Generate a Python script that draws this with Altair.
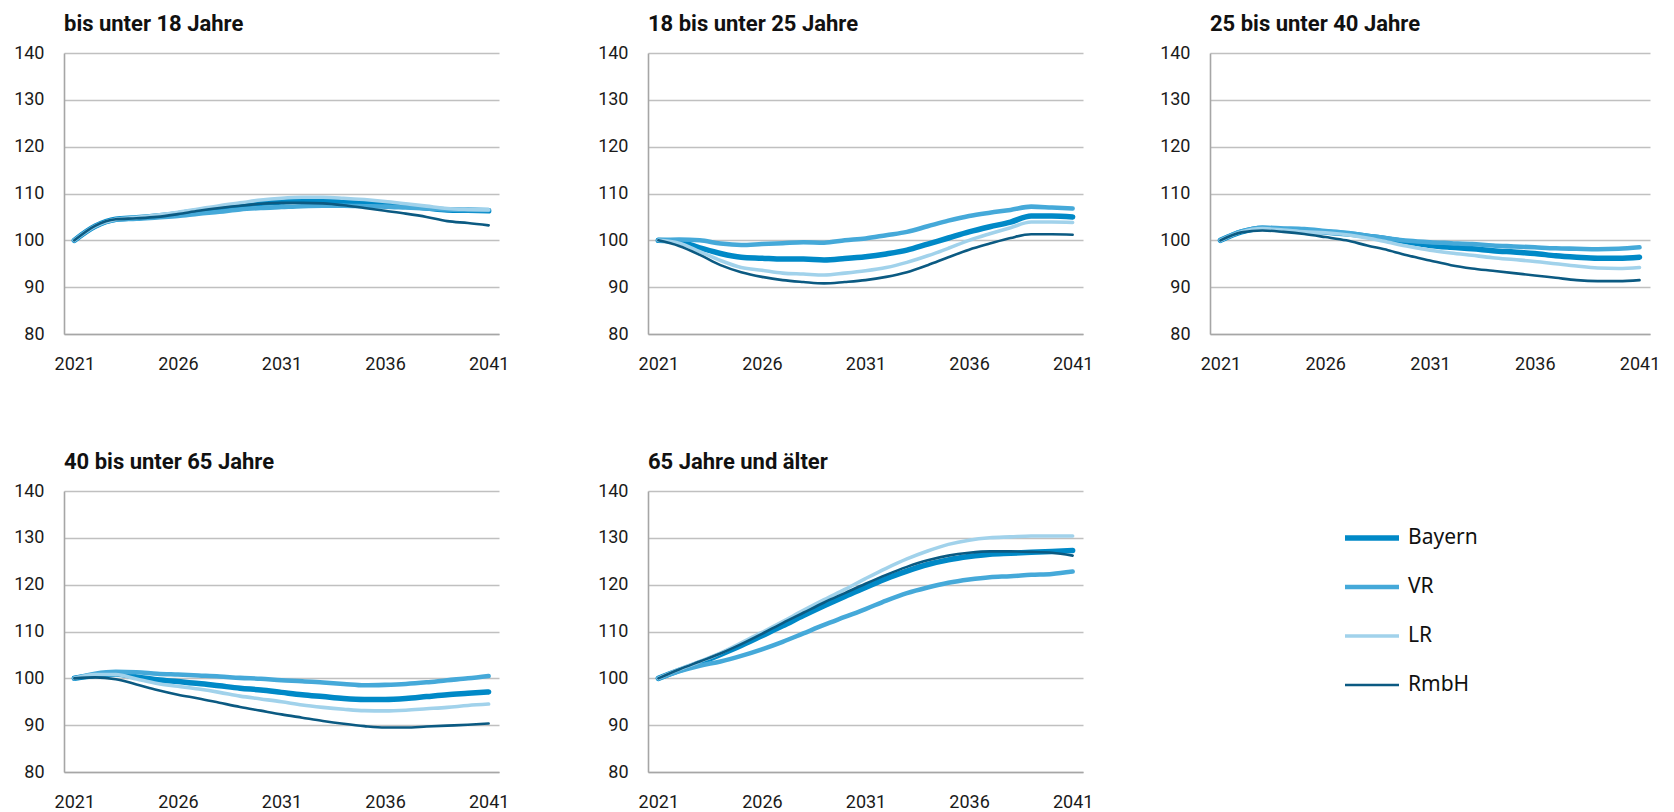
import altair as alt
import pandas as pd

YEARS = list(range(2021, 2042))
SERIES = ["Bayern", "VR", "LR", "RmbH"]
COLORS = ["#0089C7", "#45A9D9", "#A1D2EB", "#0B5A82"]
WIDTHS = [5.5, 2.6, 2.6, 2.6]
TITLES = ["bis unter 18 Jahre", "18 bis unter 25 Jahre", "25 bis unter 40 Jahre",
          "40 bis unter 65 Jahre", "65 Jahre und älter"]
Y_TICKS = [80, 90, 100, 110, 120, 130, 140]
X_TICKS = [2021, 2026, 2031, 2036, 2041]

# bis unter 18 Jahre
u18_bayern = [100, 103.0, 104.5, 104.8, 105.2, 105.7, 106.3, 106.9, 107.5, 107.9, 108.2,
              108.4, 108.4, 108.2, 107.9, 107.6, 107.3, 106.9, 106.5, 106.4, 106.3]
u18_vr = [100, 103.0, 104.4, 104.6, 104.9, 105.2, 105.7, 106.1, 106.6, 106.9, 107.1,
          107.3, 107.4, 107.4, 107.3, 107.2, 107.0, 106.8, 106.6, 106.5, 106.5]
u18_lr = [100, 103.0, 104.5, 104.9, 105.4, 106.0, 106.7, 107.4, 108.0, 108.6, 109.0,
          109.2, 109.2, 109.0, 108.7, 108.3, 107.8, 107.3, 106.8, 106.6, 106.5]
u18_rmbh = [100, 103.1, 104.5, 104.7, 105.0, 105.6, 106.3, 106.9, 107.4, 107.8, 108.0,
            108.0, 107.9, 107.5, 106.9, 106.3, 105.7, 105.0, 104.1, 103.7, 103.2]

# 18 bis unter 25 Jahre
a18_bayern = [100, 99.7, 98.4, 97.2, 96.4, 96.2, 96.0, 96.0, 95.8, 96.1, 96.5,
              97.1, 97.9, 99.2, 100.5, 101.8, 102.9, 103.9, 105.2, 105.2, 105.0]
a18_vr = [100, 100.2, 100.0, 99.3, 99.0, 99.2, 99.4, 99.6, 99.5, 100.0, 100.4,
          101.1, 101.8, 103.0, 104.2, 105.2, 105.9, 106.5, 107.2, 107.0, 106.8]
a18_lr = [100, 99.4, 97.6, 95.7, 94.2, 93.6, 93.0, 92.8, 92.6, 93.0, 93.5,
          94.2, 95.3, 96.7, 98.3, 100.0, 101.4, 102.7, 103.9, 103.9, 103.8]
a18_rmbh = [100, 98.8, 96.9, 94.7, 93.2, 92.2, 91.5, 91.1, 90.8, 91.1, 91.5,
            92.2, 93.2, 94.7, 96.4, 98.0, 99.3, 100.5, 101.3, 101.3, 101.2]

# 25 bis unter 40 Jahre
a25_bayern = [100, 101.8, 102.6, 102.3, 102.1, 101.8, 101.4, 100.9, 100.3, 99.6, 98.9,
              98.5, 98.2, 97.8, 97.5, 97.2, 96.7, 96.4, 96.2, 96.2, 96.4]
a25_vr = [100, 101.9, 102.7, 102.55, 102.4, 102.0, 101.6, 101.0, 100.4, 99.9, 99.6,
          99.4, 99.2, 98.9, 98.7, 98.5, 98.3, 98.2, 98.1, 98.2, 98.5]
a25_lr = [100, 101.8, 102.5, 102.2, 101.8, 101.6, 101.2, 100.5, 99.6, 98.7, 97.9,
          97.3, 96.8, 96.3, 95.9, 95.5, 95.0, 94.5, 94.1, 94.0, 94.2]
a25_rmbh = [100, 101.7, 102.1, 101.8, 101.35, 100.7, 100.0, 98.9, 97.9, 96.7, 95.7,
            94.7, 94.0, 93.5, 93.0, 92.5, 92.0, 91.5, 91.3, 91.3, 91.5]

# 40 bis unter 65 Jahre
a40_bayern = [100, 100.6, 100.9, 100.3, 99.7, 99.3, 98.9, 98.4, 97.9, 97.5, 97.0,
              96.5, 96.1, 95.7, 95.5, 95.5, 95.7, 96.1, 96.5, 96.8, 97.1]
a40_vr = [100, 101.0, 101.4, 101.3, 101.0, 100.8, 100.6, 100.4, 100.1, 99.9, 99.6,
          99.4, 99.1, 98.8, 98.5, 98.6, 98.8, 99.15, 99.6, 100.0, 100.5]
a40_lr = [100, 100.8, 100.8, 99.85, 98.9, 98.3, 97.7, 97.0, 96.2, 95.6, 95.0,
          94.3, 93.8, 93.4, 93.1, 93.05, 93.2, 93.5, 93.8, 94.2, 94.5]
a40_rmbh = [100, 100.2, 99.8, 98.7, 97.5, 96.5, 95.7, 94.8, 93.9, 93.1, 92.3,
            91.6, 90.9, 90.3, 89.8, 89.5, 89.5, 89.7, 89.9, 90.1, 90.35]

# 65 Jahre und älter
a65_bayern = [100, 101.7, 103.3, 105.1, 107.0, 109.1, 111.2, 113.4, 115.5, 117.5, 119.4,
              121.3, 122.9, 124.3, 125.3, 126.0, 126.5, 126.7, 126.9, 127.1, 127.3]
a65_vr = [100, 101.5, 102.7, 103.6, 104.8, 106.2, 107.8, 109.6, 111.4, 113.1, 114.8,
          116.6, 118.2, 119.4, 120.4, 121.1, 121.6, 121.8, 122.1, 122.3, 122.8]
a65_lr = [100, 101.9, 103.6, 105.4, 107.6, 109.8, 112.1, 114.5, 116.8, 119.0, 121.3,
          123.5, 125.5, 127.2, 128.6, 129.5, 130.0, 130.2, 130.4, 130.4, 130.4]
a65_rmbh = [100, 101.9, 103.6, 105.3, 107.3, 109.5, 111.8, 114.0, 116.2, 118.2, 120.2,
            122.1, 123.8, 125.2, 126.2, 126.8, 127.1, 127.1, 127.0, 126.8, 126.2]

PANEL_DATA = [
    [u18_bayern, u18_vr, u18_lr, u18_rmbh],
    [a18_bayern, a18_vr, a18_lr, a18_rmbh],
    [a25_bayern, a25_vr, a25_lr, a25_rmbh],
    [a40_bayern, a40_vr, a40_lr, a40_rmbh],
    [a65_bayern, a65_vr, a65_lr, a65_rmbh],
]

FONT = "Roboto"
W, H = 435, 281

LEGEND = alt.Legend(
    title=None, orient="none", legendX=1278, legendY=475, symbolType="stroke",
    symbolSize=2916, labelFont="Noto Sans", labelFontSize=21, labelColor="#111111",
    labelOffset=6, rowPadding=28, clipHeight=20, padding=0,
)


def frame(series_lists):
    rows = []
    for name, vals in zip(SERIES, series_lists):
        for y, v in zip(YEARS, vals):
            rows.append({"Jahr": y, "Wert": v, "Reihe": name})
    return pd.DataFrame(rows)


def panel(i, width=W):
    df = frame(PANEL_DATA[i])
    return alt.Chart(df).mark_line(interpolate="monotone", strokeCap="round", strokeJoin="round").encode(
        x=alt.X("Jahr:Q",
                scale=alt.Scale(domain=[2020.5, 2041.5], nice=False, zero=False),
                axis=alt.Axis(values=X_TICKS, format="d", title=None, grid=False,
                              ticks=False, labelPadding=21, domainColor="#A6A6A6",
                              domainWidth=1.6, labelFont=FONT, labelFontSize=18,
                              labelColor="#1a1a1a", labelFlush=False)),
        y=alt.Y("Wert:Q",
                scale=alt.Scale(domain=[80, 140], nice=False, zero=False),
                axis=alt.Axis(values=Y_TICKS, title=None, grid=True, gridColor="#C0C0C0",
                              gridWidth=1.6, ticks=False, labelPadding=20,
                              domainColor="#A6A6A6", domainWidth=1.6, labelFont=FONT,
                              labelFontSize=18, labelColor="#1a1a1a")),
        color=alt.Color("Reihe:N", sort=SERIES,
                        scale=alt.Scale(domain=SERIES, range=COLORS),
                        legend=LEGEND),
        strokeWidth=alt.StrokeWidth("Reihe:N", sort=SERIES,
                                    scale=alt.Scale(domain=SERIES, range=WIDTHS),
                                    legend=LEGEND),
        order=alt.Order("Jahr:Q"),
    ).properties(
        width=width, height=H,
        title=alt.TitleParams(TITLES[i], anchor="start", frame="group", font=FONT,
                              fontSize=22, fontWeight="bold", color="#111111", offset=8),
    )


top_left = alt.hconcat(panel(0), panel(1), spacing=88)
row1 = alt.hconcat(top_left, panel(2, 440), spacing=66)
row2 = alt.hconcat(panel(3), panel(4), spacing=88)

chart = alt.vconcat(row1, row2, spacing=78, background="white").configure_view(
    stroke=None
)

chart.save("out.html", embed_options={"renderer": "svg", "actions": False})
